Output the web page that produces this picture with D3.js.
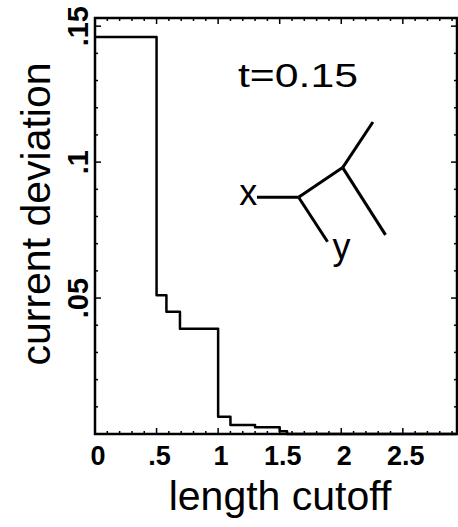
<!DOCTYPE html>
<html>
<head>
<meta charset="utf-8">
<script src="https://cdn.jsdelivr.net/npm/d3@7/dist/d3.min.js"></script>
<style>
  html, body { margin: 0; padding: 0; background: #fff; }
  svg { display: block; }
  text { font-family: "Liberation Sans", Arial, Helvetica, sans-serif; fill: #000; }
</style>
</head>
<body>
<svg id="chart" width="458" height="527"></svg>
<script>
// Step curve: current deviation as a function of the length cutoff
const cutoffs   = [0,     0.5,   0.58,  0.69,   1.0,    1.1,    1.3,    1.5,   1.56, 2.94];
const deviation = [0.146, 0.051, 0.045, 0.0387, 0.0063, 0.0033, 0.0025, 0.001, 0,    0];

const xTickValues = [0, 0.5, 1, 1.5, 2, 2.5];
const xTickLabels = ["0", ".5", "1", "1.5", "2", "2.5"];
const yTickValues = [0.05, 0.1, 0.15];
const yTickLabels = [".05", ".1", ".15"];

// Inset tree schematic (unit coordinates) with leaf labels
const treeNodes = { a: [0, 0.66], b: [0.33, 0.66], c: [0.68, 0.40], d: [0.92, 0], e: [1.02, 0.99], f: [0.56, 1.05] };
const treeEdges = [["a", "b"], ["b", "c"], ["c", "d"], ["c", "e"], ["b", "f"]];
const treeLabels = [{ text: "x", at: [-0.07, 0.73] }, { text: "y", at: [0.67, 1.2] }];

const W = 458, H = 527;
const svg = d3.select("#chart");

const x = d3.scaleLinear().domain([0, 2.94]).range([95, 457]);
const y = d3.scaleLinear().domain([0, 0.153]).range([434, 18]);

const x0 = x.range()[0], x1 = x.range()[1];
const y0 = y.range()[0], y1 = y.range()[1];

// Frame
svg.append("rect")
  .attr("x", x0).attr("y", y1)
  .attr("width", x1 - x0).attr("height", y0 - y1)
  .attr("fill", "none").attr("stroke", "#000").attr("stroke-width", 2.5);

// Inward ticks on all four sides
const xMinor = d3.range(0, 2.94, 0.1).map(v => +v.toFixed(2));
const yMinor = d3.range(0, 0.153, 0.01).map(v => +v.toFixed(3));
const isMajorX = v => Math.abs(v / 0.5 - Math.round(v / 0.5)) < 1e-6;
const isMajorY = v => Math.abs(v / 0.05 - Math.round(v / 0.05)) < 1e-6;

const ticks = svg.append("g").attr("stroke", "#000").attr("stroke-width", 1.5);
xMinor.forEach(v => {
  const len = isMajorX(v) ? 6 : 3;
  ticks.append("line").attr("x1", x(v)).attr("x2", x(v)).attr("y1", y0).attr("y2", y0 - len);
  ticks.append("line").attr("x1", x(v)).attr("x2", x(v)).attr("y1", y1).attr("y2", y1 + len);
});
yMinor.forEach(v => {
  const len = isMajorY(v) ? 6 : 3;
  ticks.append("line").attr("y1", y(v)).attr("y2", y(v)).attr("x1", x0).attr("x2", x0 + len);
  ticks.append("line").attr("y1", y(v)).attr("y2", y(v)).attr("x1", x1).attr("x2", x1 - len);
});

// Tick labels
svg.append("g").selectAll("text").data(xTickValues).join("text")
  .attr("x", d => x(d) + 3).attr("y", 465)
  .attr("text-anchor", "middle")
  .attr("font-size", 27).attr("font-weight", "bold")
  .text((d, i) => xTickLabels[i]);

svg.append("g").selectAll("text").data(yTickValues).join("text")
  .attr("transform", d => `translate(88,${y(d)}) rotate(-90)`)
  .attr("text-anchor", "middle")
  .attr("font-size", 29).attr("font-weight", "bold")
  .text((d, i) => yTickLabels[i]);

// Axis titles
svg.append("text")
  .attr("x", 280).attr("y", 510)
  .attr("text-anchor", "middle")
  .attr("font-size", 41)
  .text("length cutoff");

svg.append("text")
  .attr("transform", "translate(50,214) rotate(-90)")
  .attr("text-anchor", "middle")
  .attr("font-size", 41)
  .text("current deviation");

// Data curve
const pts = cutoffs.map((c, i) => [c, deviation[i]]);
svg.append("path")
  .datum(pts)
  .attr("fill", "none")
  .attr("stroke", "#000")
  .attr("stroke-width", 2.5)
  .attr("stroke-linejoin", "round")
  .attr("d", d3.line().x(d => x(d[0])).y(d => y(d[1])).curve(d3.curveStepAfter));

// Parameter annotation
svg.append("text")
  .attr("x", 238).attr("y", 87)
  .attr("font-size", 34)
  .attr("textLength", 120).attr("lengthAdjust", "spacingAndGlyphs")
  .text("t=0.15");

// Inset tree
const tx = d3.scaleLinear().domain([0, 1]).range([257, 383]);
const ty = d3.scaleLinear().domain([0, 1]).range([122, 236]);
const tree = svg.append("g");
tree.selectAll("line").data(treeEdges).join("line")
  .attr("x1", d => tx(treeNodes[d[0]][0])).attr("y1", d => ty(treeNodes[d[0]][1]))
  .attr("x2", d => tx(treeNodes[d[1]][0])).attr("y2", d => ty(treeNodes[d[1]][1]))
  .attr("stroke", "#000").attr("stroke-width", 3).attr("stroke-linecap", "butt");
tree.selectAll("text").data(treeLabels).join("text")
  .attr("x", d => tx(d.at[0])).attr("y", d => ty(d.at[1]))
  .attr("text-anchor", "middle")
  .attr("font-size", 36)
  .text(d => d.text);
</script>
</body>
</html>
